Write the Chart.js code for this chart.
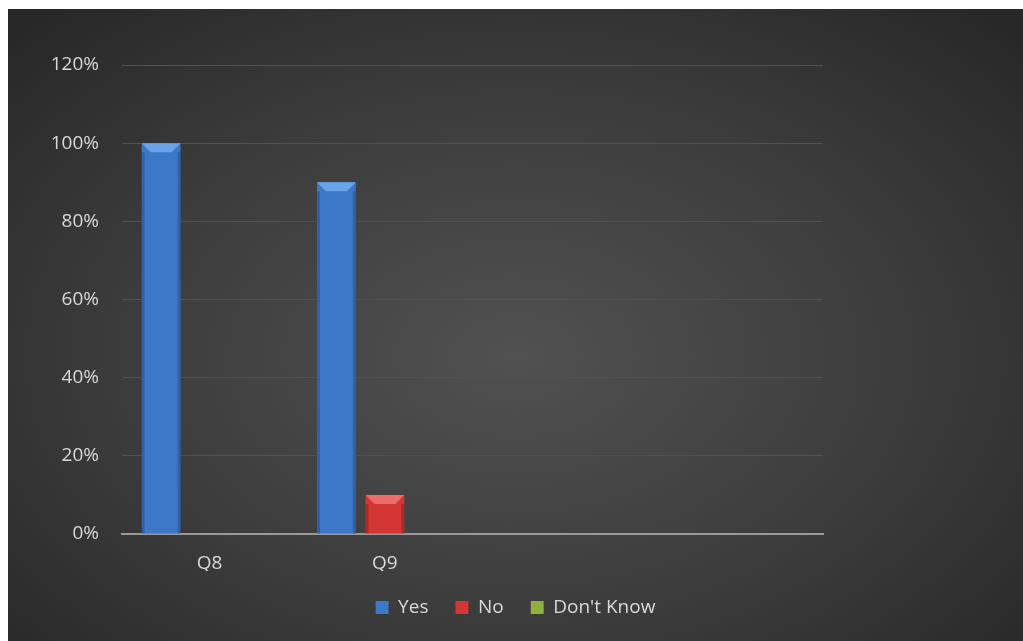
<!DOCTYPE html>
<html>
<head>
<meta charset="utf-8">
<script src="https://cdn.jsdelivr.net/npm/chart.js@4/dist/chart.umd.min.js"></script>
<style>
  html, body { margin: 0; padding: 0; background: #fff; }
  #wrap {
    position: absolute; left: 8px; top: 9px; width: 1015px; height: 632px;
    background: radial-gradient(ellipse 70% 75% at 50% 55%, #515151 0%, #3c3c3c 55%, #272727 100%);
  }
  canvas { display: block; }
</style>
</head>
<body>
<div id="wrap"><canvas id="chart" width="1015" height="632"></canvas></div>
<script>
// data
const categories = ['Q8', 'Q9', '', ''];
const yesValues = [100, 90, null, null];
const noValues = [0, 10, null, null];
const dontKnowValues = [0, 0, null, null];
const yTicks = [0, 20, 40, 60, 80, 100, 120];

const textColor = '#d9d9d9';
const fontFamily = "'Open Sans', 'Noto Sans', sans-serif";

// lighter top bevel on each bar, like the office 3D style
const bevelPlugin = {
    id: 'bevel',
    afterDatasetsDraw(chart) {
        const ctx = chart.ctx;
        chart.data.datasets.forEach((ds, i) => {
            const meta = chart.getDatasetMeta(i);
            meta.data.forEach(bar => {
                const h = bar.base - bar.y;
                if (!(h > 1)) return;
                const w = bar.width;
                const l = bar.x - w / 2, r = bar.x + w / 2;
                const b = Math.min(9, h / 2);
                ctx.save();
                ctx.fillStyle = ds.bevelColor;
                ctx.beginPath();
                ctx.moveTo(l, bar.y);
                ctx.lineTo(r, bar.y);
                ctx.lineTo(r - b, bar.y + b);
                ctx.lineTo(l + b, bar.y + b);
                ctx.closePath();
                ctx.fill();
                // darker side edges
                ctx.fillStyle = 'rgba(0,0,0,0.18)';
                ctx.fillRect(l, bar.y + b, 3, h - b);
                ctx.fillRect(r - 3, bar.y + b, 3, h - b);
                ctx.restore();
            });
        });
    }
};

const ctx = document.getElementById('chart').getContext('2d');
new Chart(ctx, {
    type: 'bar',
    data: {
        labels: categories,
        datasets: [
            { label: 'Yes', data: yesValues, backgroundColor: '#3d78c8', bevelColor: '#6aa3ea', borderWidth: 0 },
            { label: 'No', data: noValues, backgroundColor: '#d43535', bevelColor: '#ec6c6c', borderWidth: 0 },
            { label: "Don't Know", data: dontKnowValues, backgroundColor: '#8fb23f', bevelColor: '#b5d66a', borderWidth: 0 }
        ]
    },
    options: {
        responsive: false,
        animation: false,
        categoryPercentage: 0.83,
        barPercentage: 0.8,
        layout: { padding: { top: 56, right: 0, left: 0, bottom: 14 } },
        plugins: {
            legend: {
                position: 'bottom',
                labels: {
                    color: textColor,
                    boxWidth: 13,
                    boxHeight: 13,
                    padding: 27,
                    font: { family: fontFamily, size: 19 }
                }
            },
            tooltip: { enabled: false }
        },
        scales: {
            x: {
                grid: { display: false, drawTicks: false },
                border: { color: '#9a9a9a', width: 2 },
                ticks: { color: textColor, padding: 18, font: { family: fontFamily, size: 19 } },
                afterFit(scale) { scale.height = 37; }
            },
            y: {
                min: 0,
                max: 120,
                afterBuildTicks(scale) { scale.ticks = yTicks.map(v => ({ value: v })); },
                afterFit(scale) { scale.width = 114; },
                grid: { color: '#525252', lineWidth: 1, drawTicks: false },
                border: { display: false },
                ticks: {
                    color: textColor,
                    padding: 23,
                    font: { family: fontFamily, size: 19 },
                    callback: v => v + '%'
                }
            },
            // empty space on the right of the plot, keeps the legend centred on the whole chart
            spacer: {
                position: 'right',
                display: true,
                grid: { display: false },
                border: { display: false },
                ticks: { display: false },
                afterFit(scale) { scale.width = 200; }
            }
        }
    },
    plugins: [bevelPlugin]
});
</script>
</body>
</html>
